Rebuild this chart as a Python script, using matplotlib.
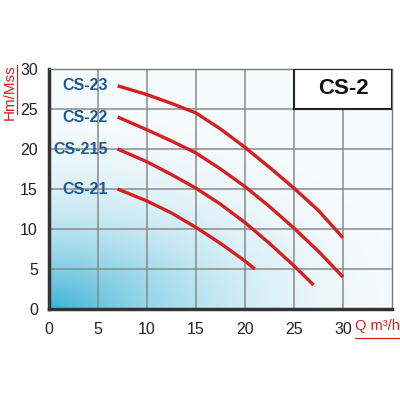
import numpy as np
import matplotlib.pyplot as plt
from matplotlib.patches import Rectangle
from matplotlib.lines import Line2D

# -----------------------------
# Data
# -----------------------------
CURVE_NAMES = ["CS-23", "CS-22", "CS-215", "CS-21"]

Q_23 = [7, 10, 12.5, 15, 17.5, 20, 22.5, 25, 27.5, 30]
H_23 = [27.9, 26.8, 25.7, 24.5, 22.5, 20.2, 17.7, 15.1, 12.3, 8.9]

Q_22 = [7, 10, 12.5, 15, 17.5, 20, 22.5, 25, 27.5, 30]
H_22 = [24.0, 22.4, 21.0, 19.5, 17.5, 15.3, 12.8, 10.1, 7.2, 4.0]

Q_215 = [7, 10, 12.5, 15, 17.5, 20, 22.5, 25, 27]
H_215 = [20.0, 18.4, 16.8, 15.1, 13.1, 10.8, 8.2, 5.4, 3.0]

Q_21 = [7, 10, 12.5, 15, 17.5, 20, 21]
H_21 = [15.0, 13.5, 12.0, 10.2, 8.2, 6.0, 5.0]

X_TICKS = [0, 5, 10, 15, 20, 25, 30]
Y_TICKS = [0, 5, 10, 15, 20, 25, 30]

TITLE = "CS-2"

FONT = ["Liberation Sans", "DejaVu Sans"]
RED = "#d42020"
BLUE = "#1b5a96"

plt.rcParams["font.family"] = FONT

fig = plt.figure(figsize=(4, 4), dpi=100)
ax = fig.add_axes([0.1225, 0.2275, 0.8575, 0.6])

# background gradient (cyan in the lower-left corner fading to white)
u, v = np.meshgrid(np.linspace(0, 1, 300), np.linspace(0, 1, 300))
d = np.sqrt((u * 0.85) ** 2 + (v * 1.1) ** 2)
w = np.clip(1 - d, 0, 1) ** 2.4
cyan = np.array([60, 178, 214]) / 255
white = np.array([246, 251, 253]) / 255
img = white[None, None, :] * (1 - w[..., None]) + cyan[None, None, :] * w[..., None]
ax.imshow(img, origin="lower", extent=[0, 35, 0, 30], aspect="auto", zorder=0)

ax.set_xlim(0, 35)
ax.set_ylim(0, 30)

for x in X_TICKS[1:]:
    ax.axvline(x, color="#8a8a8a", lw=1.1, zorder=1)
for y in Y_TICKS[1:]:
    ax.axhline(y, color="#8a8a8a", lw=1.1, zorder=1)

series = [(Q_23, H_23), (Q_22, H_22), (Q_215, H_215), (Q_21, H_21)]
for name, (q, h) in zip(CURVE_NAMES, series):
    ax.plot(q, h, color=RED, lw=2.4, solid_capstyle="butt",
            solid_joinstyle="round", zorder=3)
    ax.text(6.0, h[0], name, ha="right", va="center", fontsize=11.5,
            fontweight="bold", color=BLUE, zorder=4)

# title box in the top-right corner
ax.add_patch(Rectangle((25, 25), 10, 5, facecolor="white",
                       edgecolor="#222222", lw=1.5, zorder=4))
ax.text(30, 27.6, TITLE, ha="center", va="center", fontsize=16,
        fontweight="bold", color="#111111", zorder=5)

ax.set_xticks(X_TICKS)
ax.set_yticks(Y_TICKS)
ax.tick_params(length=0, labelsize=11.5, labelcolor="#222222")
ax.tick_params(axis="x", pad=9)
ax.tick_params(axis="y", pad=8)

for side in ["left", "bottom"]:
    ax.spines[side].set_color("#333333")
    ax.spines[side].set_linewidth(2.5)
for side in ["top", "right"]:
    ax.spines[side].set_color("#777777")
    ax.spines[side].set_linewidth(1.0)

# axis labels (red, underlined)
fig.text(0.006, 0.838, "Hm/Mss", rotation=90, ha="left", va="top",
         fontsize=11, color=RED)
fig.add_artist(Line2D([0.042, 0.042], [0.715, 0.838], color=RED, lw=0.9))
fig.text(0.888, 0.185, "Q m³/h", ha="left", va="center",
         fontsize=10.5, color=RED)
fig.add_artist(Line2D([0.888, 0.997], [0.155, 0.155], color=RED, lw=0.9))

fig.savefig("out.png", dpi=100)
